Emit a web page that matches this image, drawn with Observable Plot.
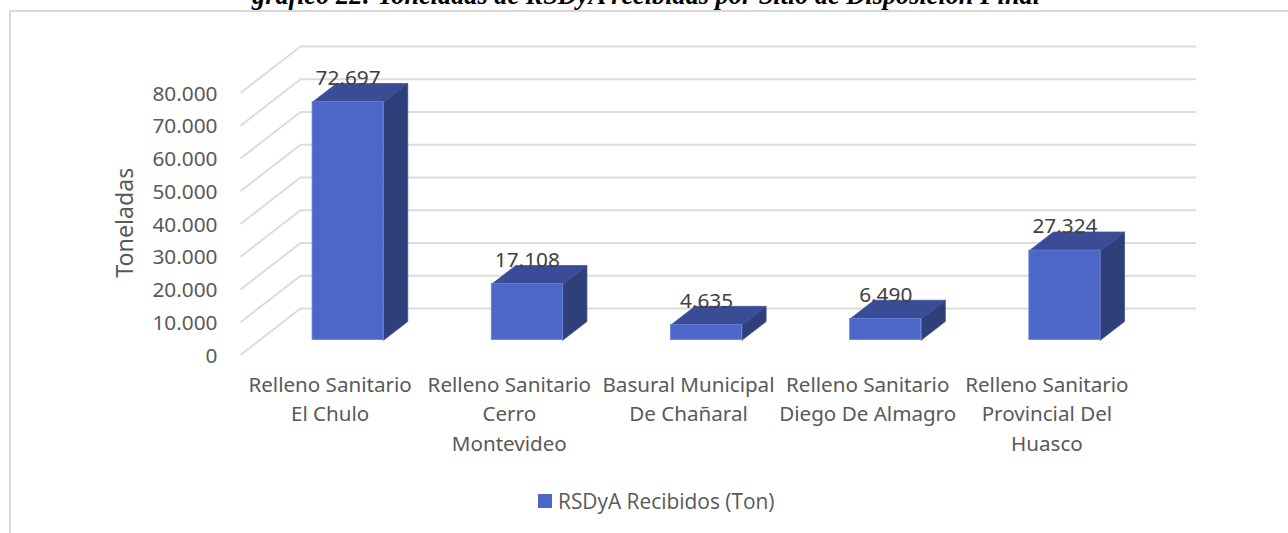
<!DOCTYPE html>
<html>
<head>
<meta charset="utf-8">
<script src="https://cdn.jsdelivr.net/npm/d3@7"></script>
<script src="https://cdn.jsdelivr.net/npm/@observablehq/plot@0.6"></script>
<style>
  html, body { margin: 0; padding: 0; background: #fff; overflow: hidden; }
  #wrap { position: relative; width: 1288px; height: 533px; overflow: hidden; font-family: "Open Sans", sans-serif; }
  #frame { position: absolute; left: 9px; top: 10px; width: 1290px; height: 540px; border: 2px solid #d9d9d9; box-sizing: border-box; }
  #titlebox { position: absolute; left: 0; top: 0; width: 1288px; height: 10px; overflow: hidden; }
  #title { position: absolute; left: 2px; width: 1288px; top: -17px; text-align: center; white-space: nowrap;
           font: italic bold 26.3px "Liberation Serif", serif; color: #000; line-height: 26px; }
  #legend { position: absolute; left: 538px; top: 486px; display: flex; align-items: center; gap: 6px;
            font-size: 20.9px; line-height: 30px; color: #595959; }
  #legend i { display: block; width: 14px; height: 14px; background: #4d67c8; }
  svg { position: absolute; left: 0; top: 0; }
</style>
</head>
<body>
<div id="wrap">
  <div id="frame"></div>
  <div id="titlebox"><div id="title"></div></div>
  <div id="chart"></div>
  <div id="legend"><i></i><span></span></div>
</div>
<script>
const titleText = "gráfico 22: Toneladas de RSDyA recibidas por Sitio de Disposición Final";
const legendText = "RSDyA Recibidos (Ton)";
const yLabel = "Toneladas";
const categories = [
  "Relleno Sanitario\nEl Chulo",
  "Relleno Sanitario\nCerro\nMontevideo",
  "Basural Municipal\nDe Chañaral",
  "Relleno Sanitario\nDiego De Almagro",
  "Relleno Sanitario\nProvincial Del\nHuasco"
];
const values = [72697, 17108, 4635, 6490, 27324];
const yTicks = [0, 10000, 20000, 30000, 40000, 50000, 60000, 70000, 80000];

// Oblique projection of the chart's depth, in data units.
const depthX = 0.335, depthY = 14200;
const front = 0.32, back = 0.72, gap = 0.295, barW = 0.397;

const fmt = d3.formatLocale({decimal: ",", thousands: ".", grouping: [3], currency: ["", ""]}).format(",d");

document.getElementById("title").textContent = titleText;
document.querySelector("#legend span").textContent = legendText;

const bars = values.map((v, i) => {
  const x0 = i + gap + front * depthX, x1 = x0 + barW;
  const y0 = front * depthY, y1 = v + front * depthY;
  const ddx = (back - front) * depthX, ddy = (back - front) * depthY;
  return {i, v, x0, x1, y0, y1, ddx, ddy};
});
const poly = (id, pts) => pts.map(([x, y]) => ({id, x, y}));
const tops = bars.flatMap(b => poly("t" + b.i, [[b.x0, b.y1], [b.x1, b.y1], [b.x1 + b.ddx, b.y1 + b.ddy], [b.x0 + b.ddx, b.y1 + b.ddy], [b.x0, b.y1]]));
const sides = bars.flatMap(b => poly("s" + b.i, [[b.x1, b.y0], [b.x1 + b.ddx, b.y0 + b.ddy], [b.x1 + b.ddx, b.y1 + b.ddy], [b.x1, b.y1], [b.x1, b.y0]]));

const chart = Plot.plot({
  width: 1288,
  height: 533,
  marginLeft: 240,
  marginRight: 92,
  marginTop: 46,
  marginBottom: 178.5,
  style: {background: "transparent", overflow: "visible"},
  x: {domain: [0, categories.length + depthX], axis: null},
  y: {domain: [0, 80000 + depthY], axis: null},
  marks: [
    Plot.link(yTicks, {x1: 0, y1: d => d, x2: depthX, y2: d => d + depthY, stroke: "#dcdcdc", strokeWidth: 2}),
    Plot.ruleY(yTicks, {y: d => d + depthY, x1: depthX, x2: categories.length + depthX, stroke: "#dcdcdc", strokeWidth: 2}),
    Plot.line(tops, {x: "x", y: "y", z: "id", fill: "#3a4c96", stroke: "#44599f", strokeWidth: 0.8, curve: "linear"}),
    Plot.line(sides, {x: "x", y: "y", z: "id", fill: "#2f3f7a", stroke: "#3d4f93", strokeWidth: 0.8, curve: "linear"}),
    Plot.rect(bars, {x1: "x0", x2: "x1", y1: "y0", y2: "y1", fill: "#4d67c8", stroke: "#6a83dc", strokeWidth: 0.8}),
    Plot.text(bars, {x: d => d.x0 + barW / 2, y: "y1", text: d => fmt(d.v), dy: -24, fontSize: 20.8, fill: "#404040"}),
    Plot.axisY({ticks: yTicks, anchor: "left", tickSize: 0, tickPadding: 23, tickFormat: d => fmt(d), fontSize: 20.8, dy: 1, label: null, color: "#595959"}),
    Plot.axisX({ticks: categories.map((c, i) => i + 0.5), anchor: "bottom", tickSize: 0, tickPadding: 16, tickFormat: (d) => categories[Math.round(d - 0.5)], fontSize: 20.6, lineHeight: 1.43, label: null, color: "#595959"}),
    Plot.text([yLabel], {text: d => d, x: 0, y: 40400, rotate: -90, dx: -115, fontSize: 23.2, fill: "#595959"})
  ]
});
document.getElementById("chart").appendChild(chart);
</script>
</body>
</html>
